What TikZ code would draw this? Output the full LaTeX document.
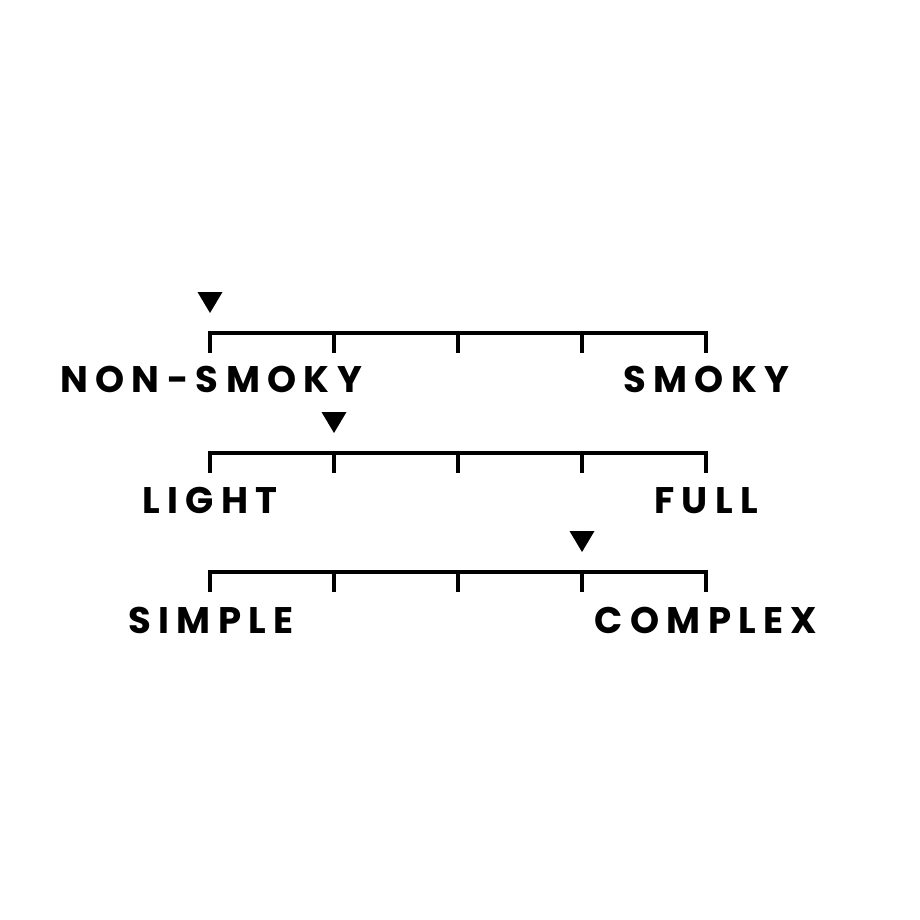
\documentclass[tikz,border=0pt]{standalone}
\usepackage{fontspec}
\usetikzlibrary{calc}
\newfontfamily\labfont[LetterSpace=20]{Poppins}
\begin{document}
\begin{tikzpicture}[x=1pt,y=-1pt,
  barline/.style={line width=3.5pt,line cap=butt,line join=miter},
  tickline/.style={line width=3.5pt},
  marker/.style={fill=black},
  lab/.style={font=\labfont\bfseries\fontsize{37}{37}\selectfont,anchor=base,inner sep=0pt}]
\useasboundingbox (0,0) rectangle (920,920);
\foreach \r/\y/\m in {1/333/0,2/453/1,3/572/3}{
  \foreach \i in {0,...,4}{
    \coordinate (t\r\i) at ({210+124*\i},\y);
  }
  \draw[barline] (t\r0) ++(0,20) -- (t\r0) -- (t\r4) -- ++(0,20);
  \foreach \i in {1,2,3}{
    \draw[tickline] (t\r\i) -- ++(0,20);
  }
  \coordinate (m\r) at ($(t\r\m)+(0,-20)$);
  \fill[marker] (m\r) -- ++(-12.5,-21) -- ++(25,0) -- cycle;
}
\node[lab] (l1) at (211,392) {NON-SMOKY};
\node[lab] (r1) at (706,392) {SMOKY};
\node[lab] (l2) at (210,513) {LIGHT};
\node[lab] (r2) at (706,513) {FULL};
\node[lab] (l3) at (211,633) {SIMPLE};
\node[lab] (r3) at (706,633) {COMPLEX};
\end{tikzpicture}
\end{document}
